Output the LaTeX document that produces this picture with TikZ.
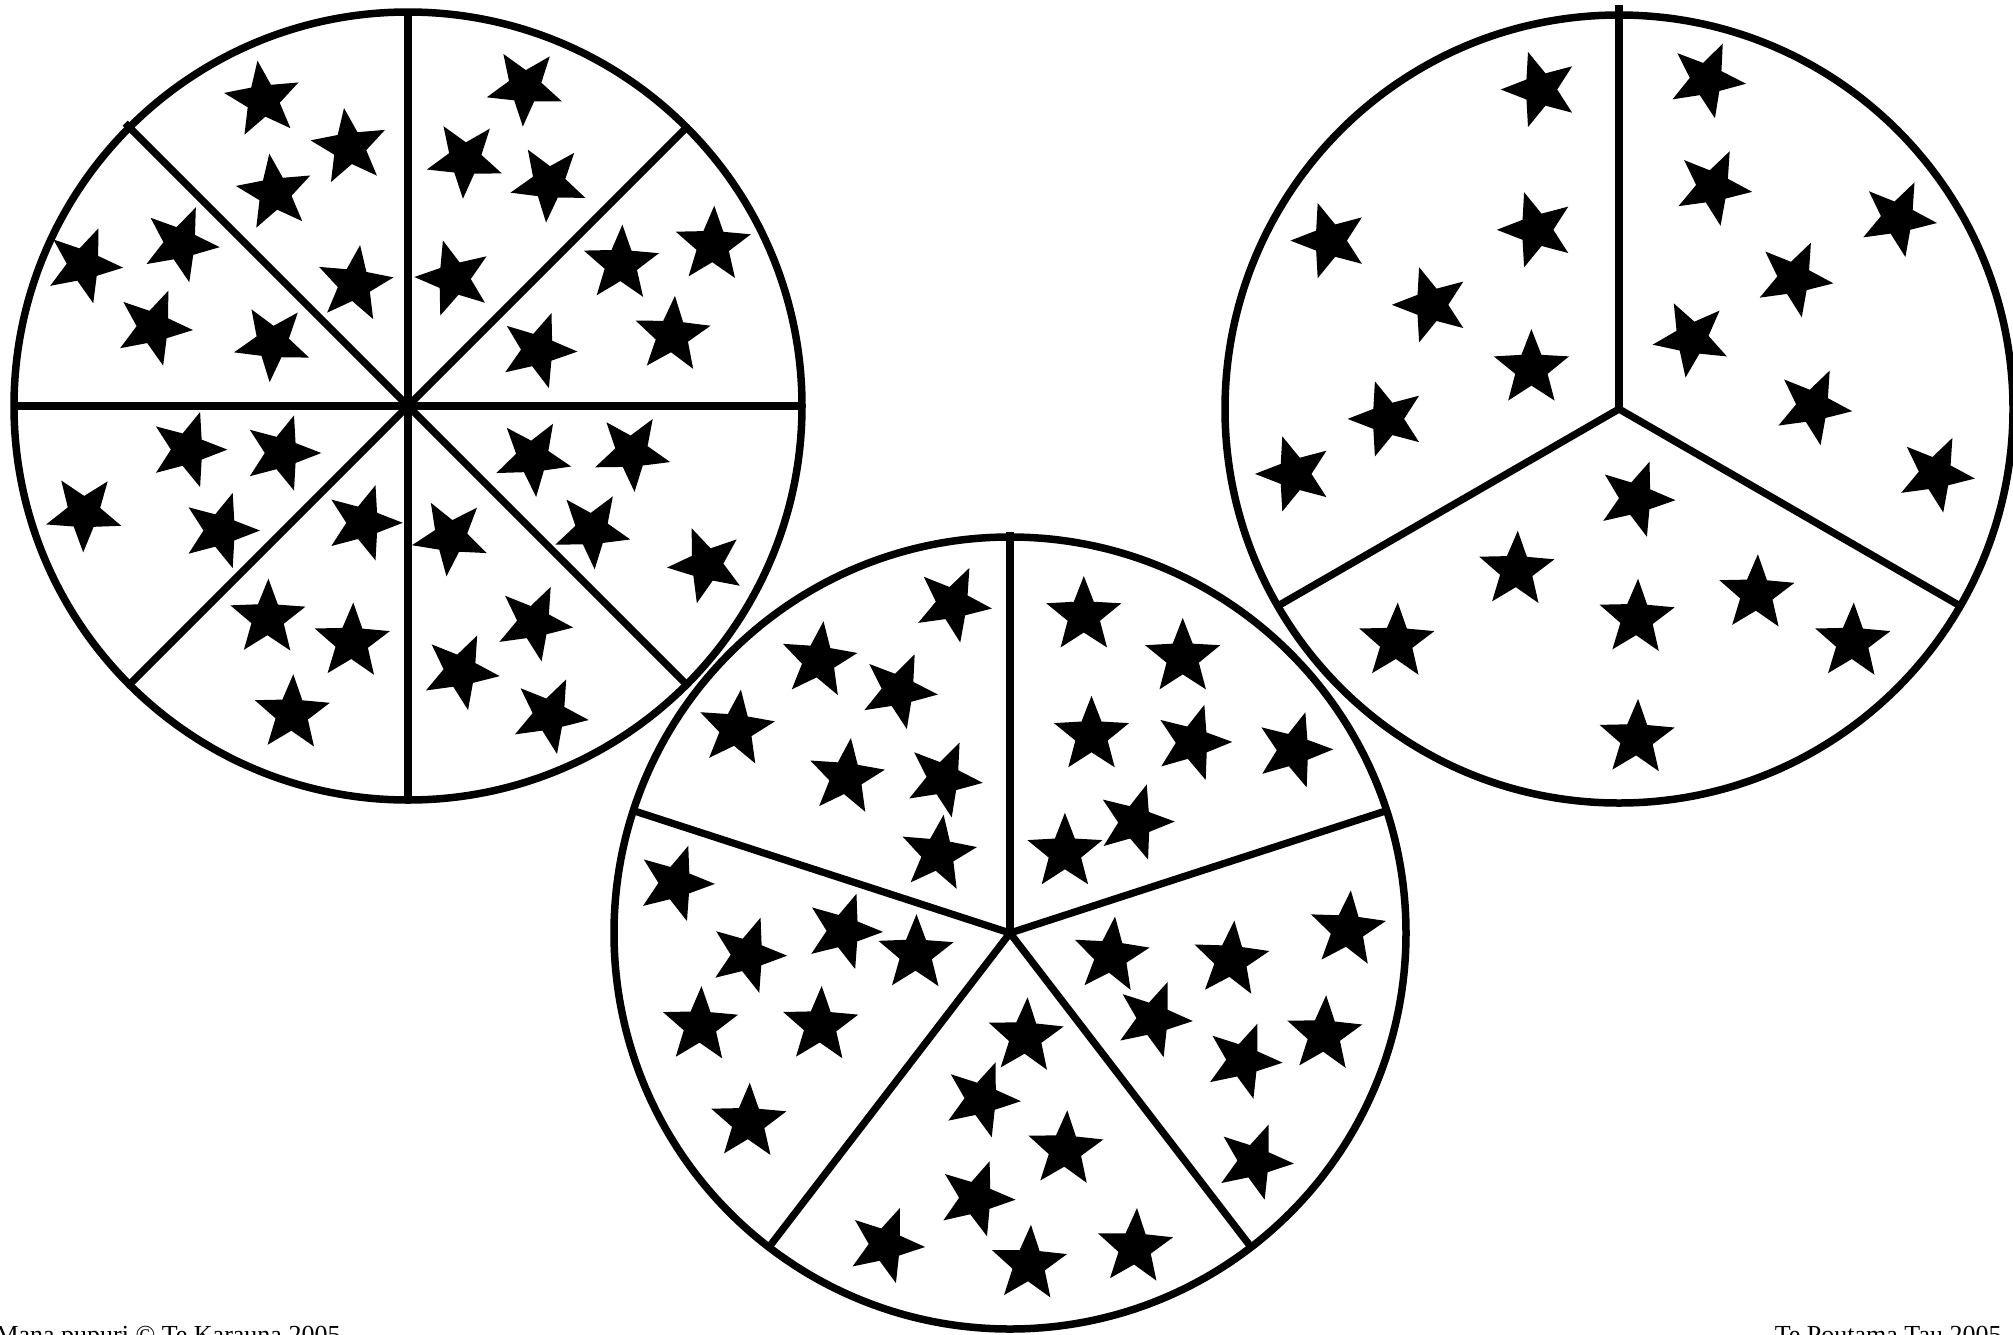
\documentclass[tikz,border=0pt]{standalone}
\usepackage{fontspec}
\setmainfont{Liberation Serif}
\tikzset{
  pics/st/.style={code={\fill (#1:39.5) -- (#1+36:17) -- (#1+72:39.5) -- (#1+108:17) -- (#1+144:39.5) -- (#1+180:17) -- (#1+216:39.5) -- (#1+252:17) -- (#1+288:39.5) -- (#1+324:17) -- cycle;}},
  rim/.style={line width=3pt},
  cut/.style={line width=2.9pt},
  foot/.style={inner sep=0pt, font=\fontsize{10.4}{12}\selectfont}
}
\begin{document}
\begin{tikzpicture}[x=0.4pt,y=-0.4pt]
\useasboundingbox (0,0) rectangle (2013,1334);
% left circle (eighths)
\coordinate (L) at (408,406);
\draw[rim] (L) circle[radius=394];
\foreach \a in {0,45,90,135,180,-90,-45} \draw[cut] (L) -- ++(\a:394);
\draw[cut] (L) -- ++(-135:400);
% right circle (thirds)
\coordinate (R) at (1619,409);
\draw[rim] (R) circle[radius=394];
\draw[cut] (R) -- ++(-90:404);
\foreach \a in {30,150} \draw[cut] (R) -- ++(\a:392);
% bottom circle (fifths)
\coordinate (B) at (1010,933);
\draw[rim] (B) circle[radius=396];
\draw[cut] (B) -- ++(-90:401);
\foreach \a in {-162,127.5,52.5,-18} \draw[cut] (B) -- ++(\a:394);
% stars, left circle
\foreach \x/\y/\a in {263.0/99.8/-98, 349.5/147.2/-98, 274.8/192.8/-98, 354.6/284.2/-82,
  83.7/264.9/-68, 180.4/243.7/-67, 153.6/327.3/-68, 272.4/342.8/-50,
  187.9/449.6/-72, 281.8/453.0/-72, 83.9/512.9/-53, 220.5/530.5/-72,
  363.3/522.8/-72, 267.7/618.2/-89, 351.9/642.0/-88, 291.9/713.7/-88,
  450.6/537.0/-48, 534.0/622.7/-65, 460.5/671.3/-65, 549.5/715.2/-65,
  532.7/457.6/-59, 631.8/452.5/-58, 591.9/529.9/-58, 706.4/564.8/-40,
  538.0/350.2/-70, 621.0/264.1/-88, 712.9/245.2/-88, 672.2/335.3/-86,
  524.9/87.1/-51, 465.0/159.3/-51, 548.8/183.1/-50, 453.8/278.4/-34}
  \pic at (\x,\y) {st=\a};
% stars, bottom circle
\foreach \x/\y/\a in {952.7/603.7/-65, 818.7/660.5/-83, 898.6/690.4/-66, 736.1/728.9/-83,
  846.1/777.2/-83, 943.5/778.7/-66, 938.1/853.9/-82,
  1083.8/615.5/-90, 1182.7/657.4/-90, 1091.5/735.3/-90, 1192.8/742.6/-73,
  1293.8/750.0/-73, 1135.2/822.2/-73, 1064.9/852.3/-90,
  675.4/883.2/-71, 747.7/955.0/-71, 843.6/931.2/-71, 915.8/953.7/-89,
  700.1/1025.6/-88, 820.3/1025.5/-88, 748.4/1122.2/-88,
  1025.5/1036.7/-87, 981.5/1099.1/-69, 1065.2/1149.7/-87, 976.1/1198.3/-70,
  885.7/1244.9/-69, 1028.9/1264.3/-87, 1134.9/1247.5/-87,
  1110.9/955.8/-84, 1230.9/959.9/-85, 1347.4/929.8/-85, 1153.4/1019.0/-69,
  1324.1/1034.7/-87, 1243.2/1060.6/-69, 1254.4/1161.5/-69}
  \pic at (\x,\y) {st=\a};
% stars, right circle
\foreach \x/\y/\a in {1540.2/89.5/-36, 1329.9/240.6/-36, 1536.3/229.8/-36, 1431.3/304.8/-36,
  1531.4/368.6/-90, 1387.1/418.9/-36, 1294.5/473.9/-36,
  1706.7/79.6/-66, 1713.0/187.0/-65, 1897.8/218.2/-65, 1794.2/278.5/-65,
  1691.7/338.5/-45, 1813.0/406.4/-65, 1935.7/473.7/-65,
  1636.0/498.8/-70, 1516.4/570.2/-88, 1756.5/593.7/-88, 1396.4/642.0/-88,
  1636.7/618.2/-88, 1852.4/642.0/-88, 1636.7/738.4/-88}
  \pic at (\x,\y) {st=\a};
% footers
\node[foot, anchor=base west] (copy) at (-5,1343) {Mana pupuri © Te Karauna 2005};
\node[foot, anchor=base east] (proj) at (2002,1343) {Te Poutama Tau 2005};
\end{tikzpicture}
\end{document}
